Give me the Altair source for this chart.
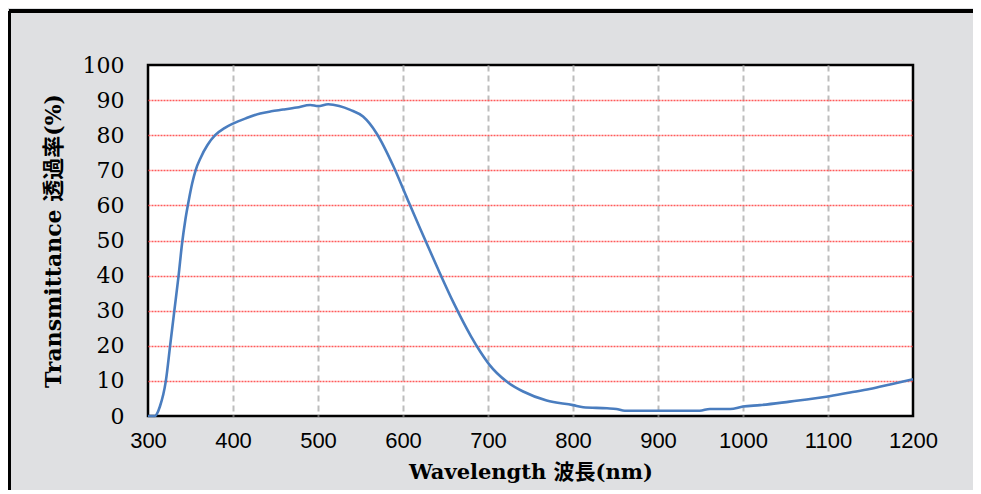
import altair as alt
import pandas as pd

wavelength = [300, 308, 314, 321, 326, 331, 336, 340, 344, 348, 352, 356, 362, 370, 379, 390, 400, 415, 432,
              445, 459, 475, 491, 500, 512, 525, 538, 553, 569, 589, 604, 620, 640, 660, 680,
              691, 702, 722, 742, 769, 800, 812, 840, 851, 861, 890, 926, 949, 961, 985, 1000,
              1020, 1055, 1075, 1098, 1126, 1149, 1173, 1200]
transmittance = [0, 0, 2.7, 10, 20, 30, 40, 49, 56, 61.5, 66.3, 70, 73.6, 77.2, 80, 82, 83.3, 84.8, 86.2,
                 86.8, 87.3, 87.9, 88.6, 88.3, 88.8, 88.3, 87.2, 85.3, 80.5, 71, 62.5, 53.5, 42.5, 32, 22.7,
                 18.3, 14.5, 9.8, 6.9, 4.4, 3.1, 2.5, 2.2, 2.0, 1.5, 1.5, 1.5, 1.5, 2.0, 2.0, 2.7,
                 3.1, 4.1, 4.7, 5.5, 6.7, 7.7, 9.0, 10.5]

x_ticks = [300, 400, 500, 600, 700, 800, 900, 1000, 1100, 1200]
y_ticks = [0, 10, 20, 30, 40, 50, 60, 70, 80, 90, 100]

df = pd.DataFrame({"wl": wavelength, "t": transmittance})

serif = "DejaVu Serif, Noto Sans CJK JP"
sans = "Liberation Sans, Arial"

line = alt.Chart(df).mark_line(
    color="#4a7dbf", strokeWidth=2.6, interpolate="monotone"
).encode(
    x=alt.X(
        "wl:Q",
        scale=alt.Scale(domain=[300, 1200], nice=False, zero=False),
        axis=alt.Axis(
            values=x_ticks, format="d", title="Wavelength 波長(nm)",
            labelFont=sans, labelFontSize=22, labelColor="#000", labelFlush=False,
            labelPadding=14, ticks=False, domain=False,
            titleFont=serif, titleFontSize=21, titleFontWeight="bold", titleColor="#000",
            titlePadding=10,
            gridColor={"condition": {"test": "datum.value === 300 || datum.value === 1200",
                                     "value": "transparent"}, "value": "#bdbdbd"},
            gridDash=[6, 4], gridWidth=2,
        ),
    ),
    y=alt.Y(
        "t:Q",
        scale=alt.Scale(domain=[0, 100], nice=False),
        axis=alt.Axis(
            values=y_ticks, format="d", title="Transmittance 透過率(%)",
            labelFont=serif, labelFontSize=22, labelColor="#000",
            labelPadding=24, ticks=False, domain=False,
            titleFont=serif, titleFontSize=22, titleFontWeight="bold", titleColor="#000",
            titlePadding=17,
            gridColor={"condition": {"test": "datum.value === 0 || datum.value === 100",
                                     "value": "transparent"}, "value": "#ff5a5a"},
            gridDash=[2, 1], gridWidth=1.3,
        ),
    ),
)

frame_top = alt.Chart(df).mark_rule(color="#000", strokeWidth=2.5).encode(
    x=alt.value(-139), x2=alt.value(840), y=alt.value(-54)
)
frame_left = alt.Chart(df).mark_rule(color="#000", strokeWidth=2.5).encode(
    x=alt.value(-139), y=alt.value(-54), y2=alt.value(440)
)

chart = alt.layer(frame_top, frame_left, line).properties(
    width=765, height=351,
    background="#dfe0e2",
    padding={"left": 140, "top": 57, "right": 60, "bottom": 74},
    autosize=alt.AutoSizeParams(type="none"),
).configure_view(
    fill="#ffffff", stroke="#000000", strokeWidth=2.5
)

chart.save("out.html", embed_options={"renderer": "svg", "actions": False})
